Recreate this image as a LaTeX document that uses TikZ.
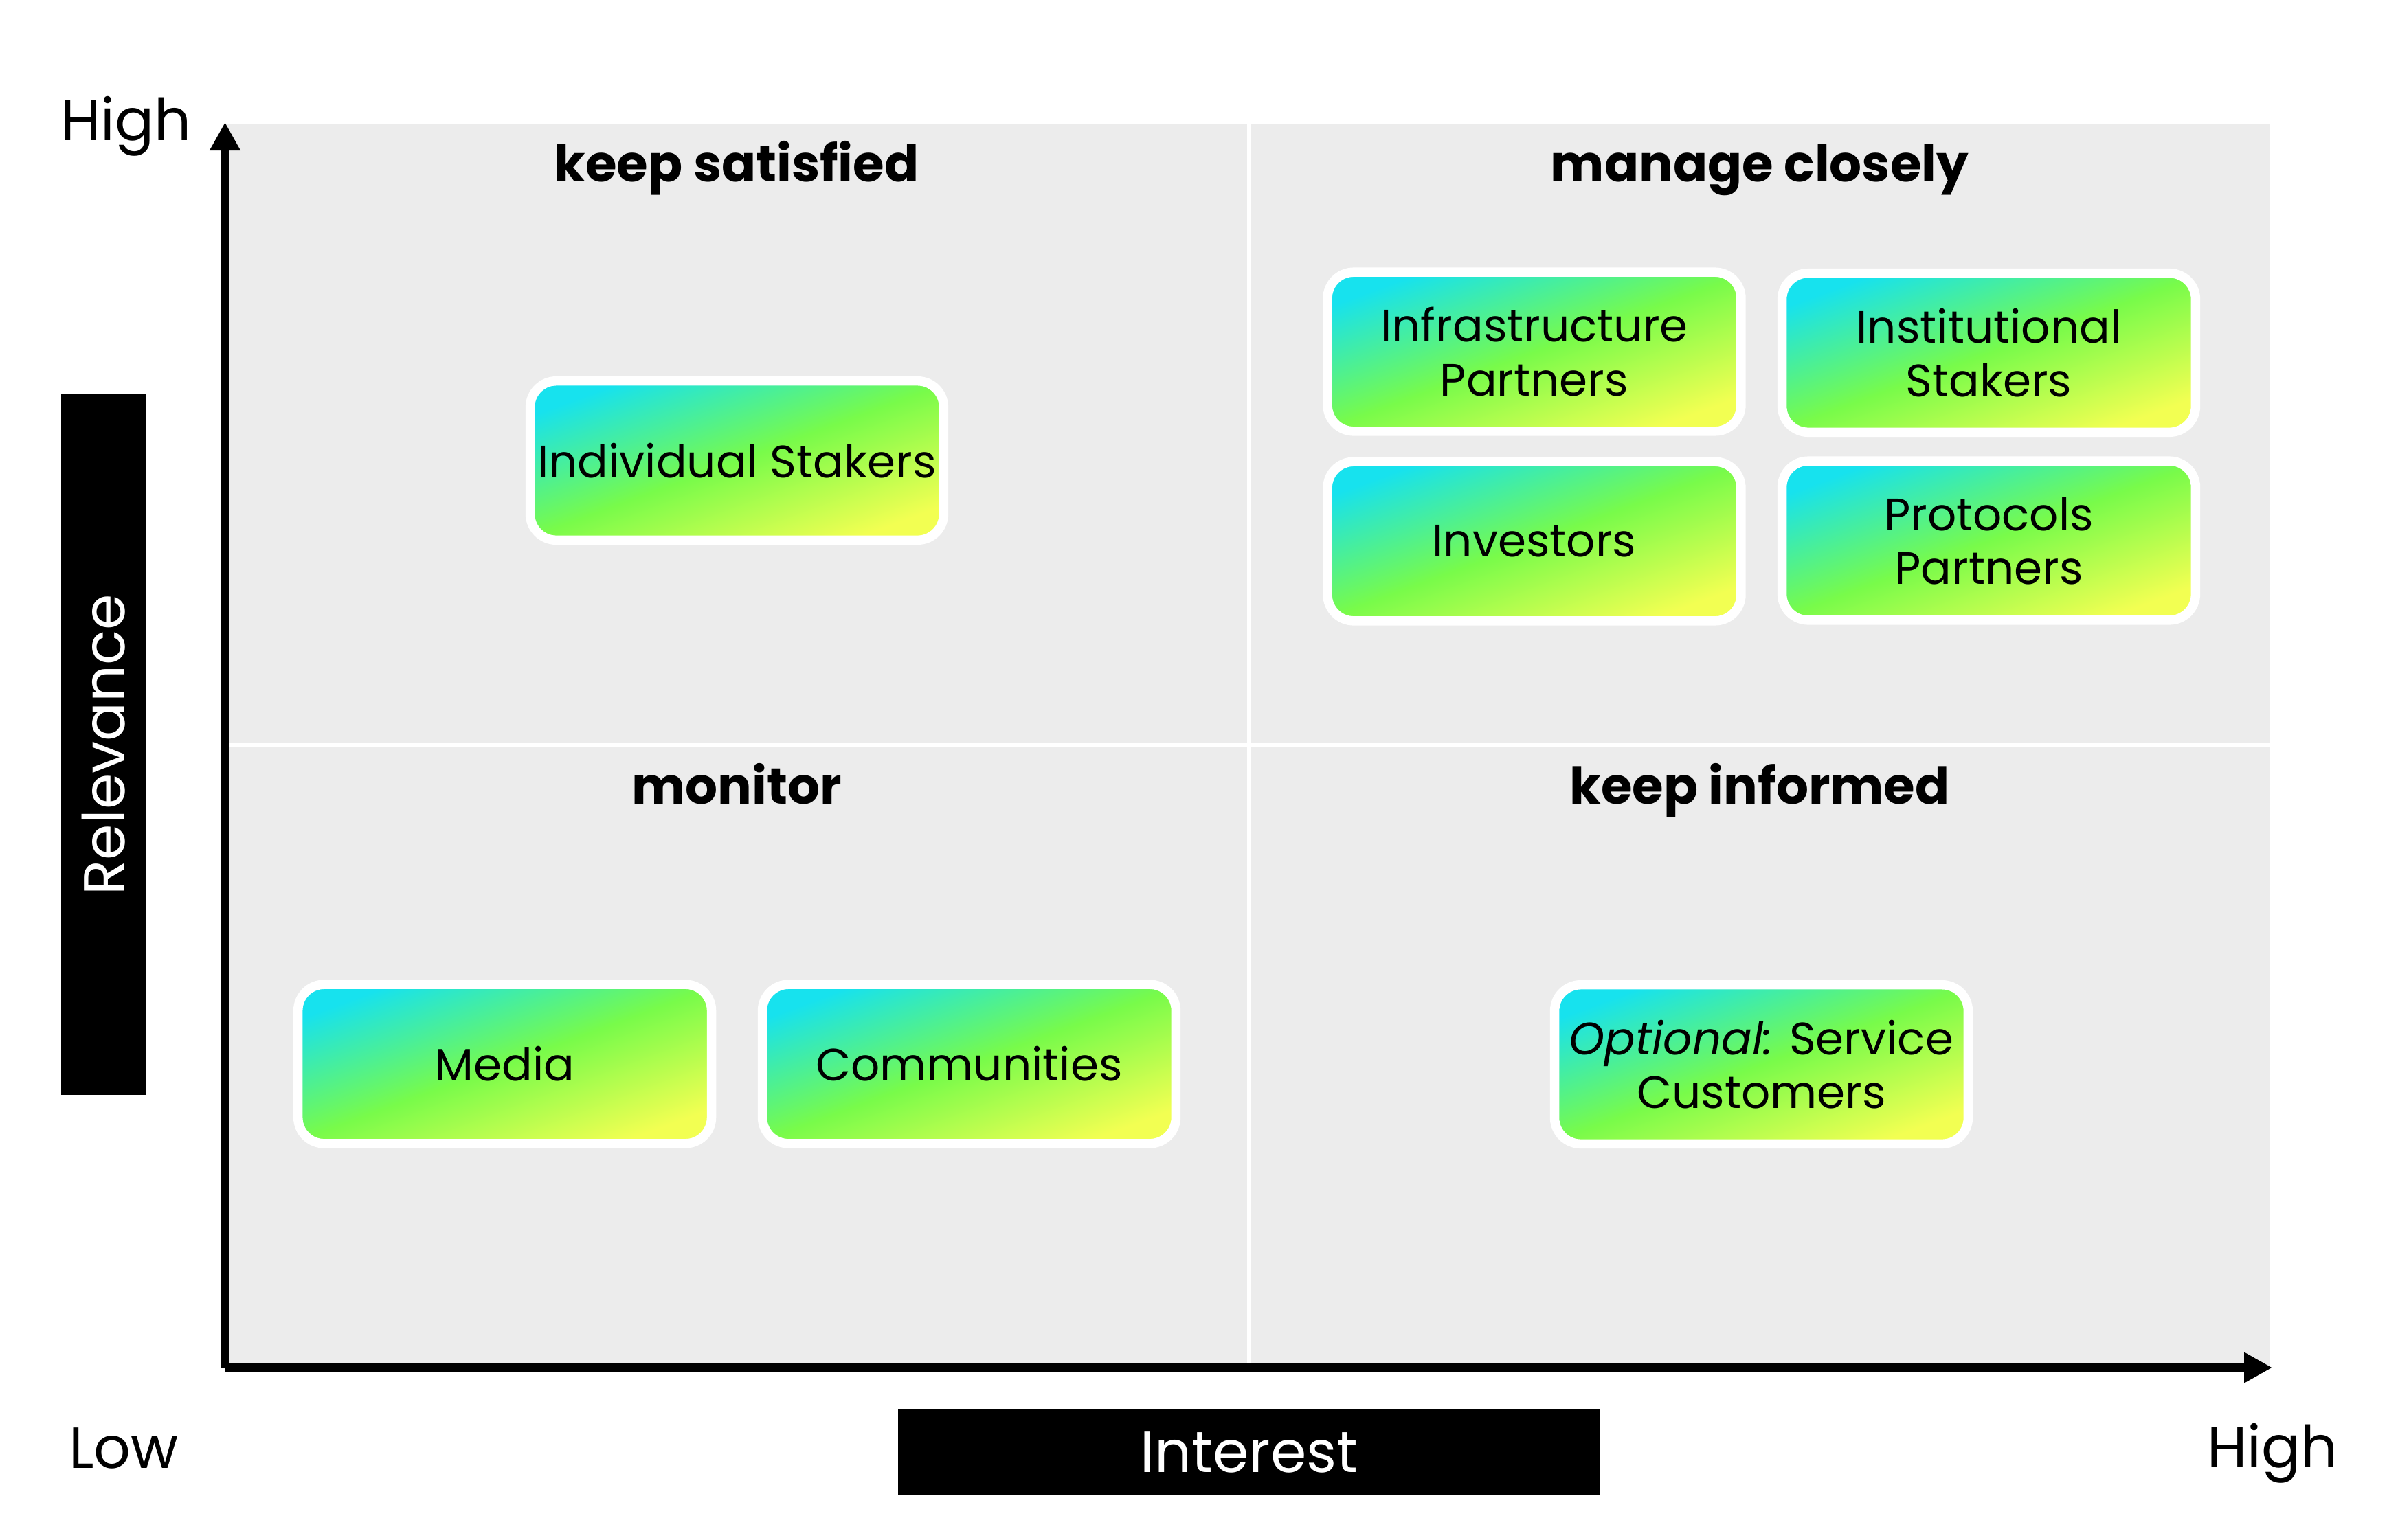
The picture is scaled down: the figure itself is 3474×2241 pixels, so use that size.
\documentclass[tikz,border=0pt]{standalone}
\usepackage{fontspec}
\setmainfont{Poppins}
\usetikzlibrary{arrows.meta}
\definecolor{bggray}{HTML}{ECECEC}
\definecolor{gcyan}{HTML}{17E2EE}
\definecolor{ggreen}{HTML}{78FB4A}
\definecolor{gyellow}{HTML}{F2FF52}
\begin{document}
\begin{tikzpicture}[x=0.01cm, y=-0.01cm,
  stakebox/.style={rectangle, rounded corners=0.38cm, minimum width=6.015cm,
    minimum height=2.315cm, inner sep=0pt, draw=white, line width=0.135cm,
    align=center, font=\fontsize{18.8}{22.2}\selectfont,
    top color=gcyan, bottom color=gyellow, middle color=ggreen, shading angle=20.3},
  quadtitle/.style={anchor=base, inner sep=0pt, font=\bfseries\fontsize{21}{25}\selectfont},
  axlabel/.style={anchor=base, inner sep=0pt, font=\fontsize{24}{28}\selectfont},
  axisline/.style={line width=0.135cm, line cap=butt, -{Triangle[length=0.41cm,width=0.42cm]}},
  divider/.style={white, line width=0.05cm},
  blackbox/.style={fill=black, text=white, inner sep=0pt, font=\fontsize{24}{28}\selectfont}]
\useasboundingbox (0,0) rectangle (3474,2241);
% background
\coordinate (bgtl) at (327.5,180);
\coordinate (bgbr) at (3304,1991);
\fill[bggray] (bgtl) rectangle (bgbr);
% dividers
\coordinate (vt) at (1817.5,180);
\coordinate (vb) at (1817.5,1991);
\coordinate (hl) at (327.5,1084.5);
\coordinate (hr) at (3304,1084.5);
\draw[divider] (vt) -- (vb);
\draw[divider] (hl) -- (hr);
% quadrant titles
\node[quadtitle] (tks) at (1072,264) {keep satisfied};
\node[quadtitle] (tmc) at (2561,264) {manage closely};
\node[quadtitle] (tmo) at (1072,1170) {monitor};
\node[quadtitle] (tki) at (2561,1170) {keep informed};
% stakeholder boxes
\node[stakebox] (ind) at (1072.5,670.5) {Individual Stakers};
\node[stakebox] (infra) at (2233,512) {Infrastructure\\Partners};
\node[stakebox] (inst) at (2894.5,513.5) {Institutional\\Stakers};
\node[stakebox] (inv) at (2233,788) {Investors};
\node[stakebox] (proto) at (2894.5,787) {Protocols\\Partners};
\node[stakebox] (media) at (734.6,1549) {Media};
\node[stakebox] (comm) at (1410.5,1549) {Communities};
\node[stakebox] (opt) at (2563.5,1549.5) {\textit{Optional:} Service\\Customers};
% axes
\coordinate (ybot) at (327.5,1992);
\coordinate (ytop) at (327.5,178);
\coordinate (xorg) at (327.5,1991);
\coordinate (xend) at (3307,1991);
\draw[axisline] (ybot) -- (ytop);
\draw[axisline] (xorg) -- (xend);
% axis labels
\node[axlabel] (yhigh) at (183.5,204) {High};
\node[axlabel] (xlow) at (180,2137) {Low};
\node[axlabel] (xhigh) at (3307.5,2136) {High};
\node[blackbox, rotate=90, minimum width=10.2cm, minimum height=1.24cm] (rel) at (151,1084) {Relevance};
\node[blackbox, minimum width=10.22cm, minimum height=1.24cm] (int) at (1818,2114) {Interest};
\end{tikzpicture}
\end{document}
